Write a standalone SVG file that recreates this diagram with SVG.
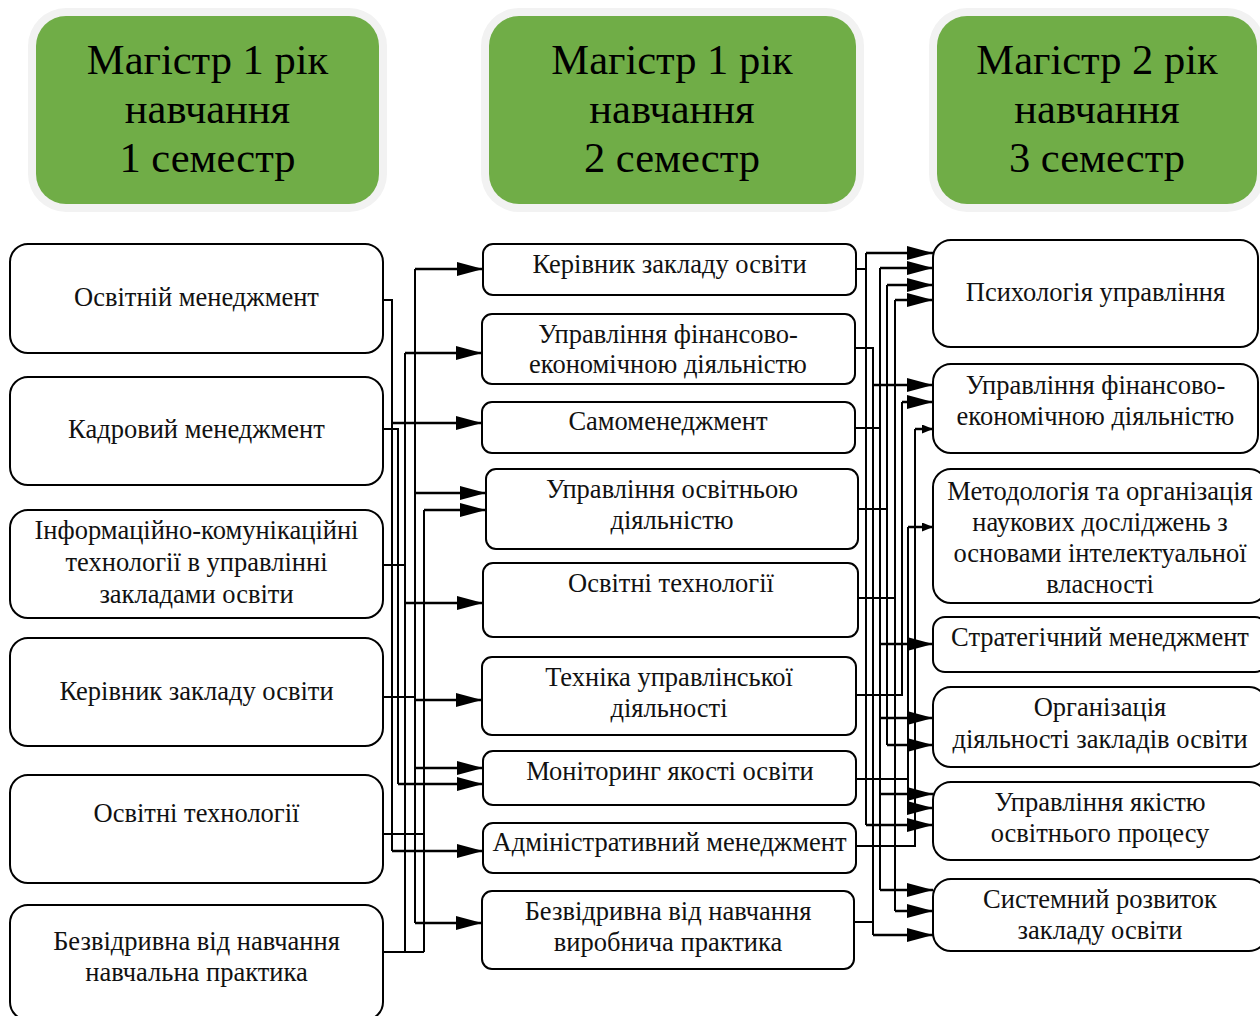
<svg xmlns="http://www.w3.org/2000/svg" width="1260" height="1016" viewBox="0 0 1260 1016">
<defs>
<marker id="ah" markerUnits="userSpaceOnUse" markerWidth="26" markerHeight="14" refX="26" refY="7" orient="auto"><path d="M0,0 L26,7 L0,14 z" fill="#000"/></marker>
<marker id="as" markerUnits="userSpaceOnUse" markerWidth="11" markerHeight="9" refX="11" refY="4.5" orient="auto"><path d="M0,0 L11,4.5 L0,9 z" fill="#000"/></marker>
<style>
.hdo{fill:#F2F2F2}
.hdi{fill:#70AD47}
.ht{font-family:"Liberation Serif","Times New Roman",serif;font-size:42.5px;fill:#000;text-anchor:middle}
.nb{fill:#fff;stroke:#000;stroke-width:2}
.t{font-family:"Liberation Serif","Times New Roman",serif;font-size:26.5px;fill:#111;text-anchor:middle}
.ln{fill:none;stroke:#000;stroke-width:2}
.ar{fill:none;stroke:#000;stroke-width:2.5;marker-end:url(#ah)}
.sa{fill:none;stroke:#000;stroke-width:2.5;marker-end:url(#as)}
</style>
</defs>
<rect width="1260" height="1016" fill="#fff"/>

<g id="h1"><rect class="hdo" x="28" y="8" width="359" height="204" rx="38"/><rect class="hdi" x="36" y="16" width="343" height="188" rx="30"/>
<text class="ht" x="207.5" y="74">Магістр 1 рік</text><text class="ht" x="207.5" y="123">навчання</text><text class="ht" x="207.5" y="172">1 семестр</text></g>
<g id="h2"><rect class="hdo" x="481" y="8" width="383" height="204" rx="38"/><rect class="hdi" x="489" y="16" width="367" height="188" rx="30"/>
<text class="ht" x="672" y="74">Магістр 1 рік</text><text class="ht" x="672" y="123">навчання</text><text class="ht" x="672" y="172">2 семестр</text></g>
<g id="h3"><rect class="hdo" x="929" y="8" width="336" height="204" rx="38"/><rect class="hdi" x="937" y="16" width="320" height="188" rx="30"/>
<text class="ht" x="1097" y="74">Магістр 2 рік</text><text class="ht" x="1097" y="123">навчання</text><text class="ht" x="1097" y="172">3 семестр</text></g>

<g id="l1"><rect class="nb" x="10" y="244" width="373" height="109" rx="18"/><text class="t" x="196.5" y="306">Освітній менеджмент</text></g>
<g id="l2"><rect class="nb" x="10" y="377" width="373" height="108" rx="18"/><text class="t" x="196.5" y="438">Кадровий менеджмент</text></g>
<g id="l3"><rect class="nb" x="10" y="510" width="373" height="108" rx="18"/><text class="t" x="196.5" y="539">Інформаційно-комунікаційні</text><text class="t" x="196.5" y="571">технології в управлінні</text><text class="t" x="196.5" y="603">закладами освіти</text></g>
<g id="l4"><rect class="nb" x="10" y="638" width="373" height="108" rx="18"/><text class="t" x="196.5" y="700">Керівник закладу освіти</text></g>
<g id="l5"><rect class="nb" x="10" y="775" width="373" height="108" rx="18"/><text class="t" x="196.5" y="822">Освітні технології</text></g>
<g id="l6"><rect class="nb" x="10" y="905" width="373" height="115" rx="18"/><text class="t" x="196.5" y="950">Безвідривна від навчання</text><text class="t" x="196.5" y="981">навчальна практика</text></g>

<g id="m1"><rect class="nb" x="483" y="244" width="373" height="51" rx="10"/><text class="t" x="669.5" y="273">Керівник закладу освіти</text></g>
<g id="m2"><rect class="nb" x="482" y="314" width="373" height="70" rx="10"/><text class="t" x="668" y="343">Управління фінансово-</text><text class="t" x="668" y="373">економічною діяльністю</text></g>
<g id="m3"><rect class="nb" x="482" y="402" width="373" height="51" rx="10"/><text class="t" x="668" y="430">Самоменеджмент</text></g>
<g id="m4"><rect class="nb" x="486" y="469" width="372" height="80" rx="10"/><text class="t" x="672" y="498">Управління освітньою</text><text class="t" x="672" y="529">діяльністю</text></g>
<g id="m5"><rect class="nb" x="483" y="563" width="375" height="74" rx="10"/><text class="t" x="671" y="592">Освітні технології</text></g>
<g id="m6"><rect class="nb" x="482" y="657" width="374" height="78" rx="10"/><text class="t" x="669" y="686">Техніка управлінської</text><text class="t" x="669" y="717">діяльності</text></g>
<g id="m7"><rect class="nb" x="483" y="751" width="373" height="54" rx="10"/><text class="t" x="670" y="780">Моніторинг якості освіти</text></g>
<g id="m8"><rect class="nb" x="483" y="823" width="373" height="50" rx="10"/><text class="t" x="669.5" y="851">Адміністративний менеджмент</text></g>
<g id="m9"><rect class="nb" x="482" y="891" width="372" height="78" rx="10"/><text class="t" x="668" y="920">Безвідривна від навчання</text><text class="t" x="668" y="951">виробнича практика</text></g>

<g id="r1"><rect class="nb" x="933" y="240" width="325" height="107" rx="18"/><text class="t" x="1095.5" y="301">Психологія управління</text></g>
<g id="r2"><rect class="nb" x="933" y="364" width="325" height="89" rx="18"/><text class="t" x="1095.5" y="394">Управління фінансово-</text><text class="t" x="1095.5" y="425">економічною діяльністю</text></g>
<g id="r3"><rect class="nb" x="933" y="469" width="334" height="134" rx="18"/><text class="t" x="1100" y="500">Методологія та організація</text><text class="t" x="1100" y="531">наукових досліджень з</text><text class="t" x="1100" y="562">основами інтелектуальної</text><text class="t" x="1100" y="593">власності</text></g>
<g id="r4"><rect class="nb" x="933" y="617" width="334" height="55" rx="12"/><text class="t" x="1100" y="646">Стратегічний менеджмент</text></g>
<g id="r5"><rect class="nb" x="933" y="687" width="334" height="80" rx="18"/><text class="t" x="1100" y="716">Організація</text><text class="t" x="1100" y="748">діяльності закладів освіти</text></g>
<g id="r6"><rect class="nb" x="933" y="782" width="334" height="78" rx="18"/><text class="t" x="1100" y="811">Управління якістю</text><text class="t" x="1100" y="842">освітнього процесу</text></g>
<g id="r7"><rect class="nb" x="933" y="879" width="334" height="72" rx="18"/><text class="t" x="1100" y="908">Системний розвиток</text><text class="t" x="1100" y="939">закладу освіти</text></g>

<g id="connectors">
<path class="ln" d="M383,300 H392 V851"/>
<path class="ln" d="M383,429 H398 V784"/>
<path class="ln" d="M383,565 H405 M405,353 V952 M383,952 H424"/>
<path class="ln" d="M383,697 H415 M415,269 V923"/>
<path class="ln" d="M424,510 V952 M383,834 H424"/>
<path class="ar" d="M415,269 H483"/>
<path class="ar" d="M405,353 H482"/>
<path class="ar" d="M392,423 H482"/>
<path class="ar" d="M415,493 H486"/>
<path class="ar" d="M424,510 H486"/>
<path class="ar" d="M405,603 H483"/>
<path class="ar" d="M415,700 H482"/>
<path class="ar" d="M415,768 H483"/>
<path class="ar" d="M398,784 H483"/>
<path class="ar" d="M392,851 H483"/>
<path class="ar" d="M415,923 H482"/>

<path class="ln" d="M856,269 H866 M866,253 V825"/>
<path class="ln" d="M855,348 H873 V935 M854,922 H873"/>
<path class="ln" d="M855,428 H880 M880,268 V890"/>
<path class="ln" d="M858,509 H887 M887,285 V745"/>
<path class="ln" d="M858,598 H895 M895,300 V911"/>
<path class="ln" d="M856,695 H902 V402"/>
<path class="ln" d="M856,779 H908 M908,527 V808"/>
<path class="ln" d="M856,846 H915 V429"/>
<path class="ar" d="M866,253 H933"/>
<path class="ar" d="M880,268 H933"/>
<path class="ar" d="M887,285 H933"/>
<path class="ar" d="M895,300 H933"/>
<path class="ar" d="M873,385 H933"/>
<path class="ar" d="M902,402 H933"/>
<path class="sa" d="M915,429 H933"/>
<path class="sa" d="M908,527 H933"/>
<path class="ar" d="M880,644 H933"/>
<path class="ar" d="M880,718 H933"/>
<path class="ar" d="M887,745 H933"/>
<path class="ar" d="M880,794 H933"/>
<path class="ar" d="M908,808 H933"/>
<path class="ar" d="M866,825 H933"/>
<path class="ar" d="M880,890 H933"/>
<path class="ar" d="M895,911 H933"/>
<path class="ar" d="M873,935 H933"/>
</g>
</svg>
